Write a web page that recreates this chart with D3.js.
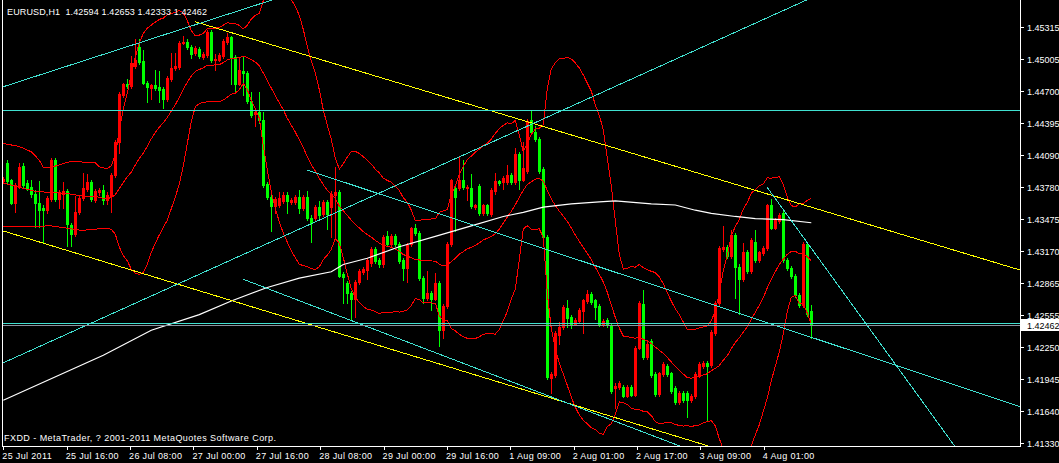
<!DOCTYPE html>
<html><head><meta charset="utf-8">
<script src="https://cdn.jsdelivr.net/npm/d3@7"></script>
<style>html,body{margin:0;padding:0;background:#000;overflow:hidden}svg{display:block}</style>
</head><body><svg id="c" width="1059" height="463"></svg>
<script>
// ---------------- DATA ----------------
const symbolTitle = "EURUSD,H1";
const lastBar = [1.42594, 1.42653, 1.42333, 1.42462]; // O H L C shown in title
const copyright = "FXDD - MetaTrader, ? 2001-2011 MetaQuotes Software Corp.";

const opens = [1.4384,1.4401,1.4385,1.4363,1.4379,1.4398,1.4382,1.4378,1.4372,1.4363,
1.4358,1.4356,1.4367,1.4404,1.4367,1.4372,1.4374,1.4342,1.4333,1.4354,
1.4368,1.4376,1.4383,1.4366,1.4373,1.4375,1.4366,1.4370,1.4390,1.4421,
1.4466,1.4477,1.4475,1.4494,1.4512,1.4499,1.4478,1.4473,1.4476,1.4474,
1.4472,1.4463,1.4482,1.4492,1.4493,1.4516,1.4517,1.4512,1.4507,1.4510,
1.4503,1.4505,1.4527,1.4500,1.4500,1.4504,1.4517,1.4522,1.4503,1.4477,
1.4489,1.4487,1.4461,1.4448,1.4450,1.4442,1.4381,1.4369,1.4360,1.4361,
1.4365,1.4371,1.4364,1.4364,1.4369,1.4358,1.4369,1.4349,1.4349,1.4359,
1.4352,1.4364,1.4359,1.4371,1.4373,1.4295,1.4286,1.4277,1.4271,1.4287,
1.4297,1.4299,1.4305,1.4319,1.4308,1.4304,1.4331,1.4324,1.4331,1.4324,
1.4308,1.4301,1.4324,1.4339,1.4334,1.4291,1.4272,1.4277,1.4271,1.4286,
1.4241,1.4264,1.4324,1.4377,1.4377,1.4385,1.4377,1.4377,1.4359,1.4379,
1.4353,1.4361,1.4352,1.4374,1.4384,1.4383,1.4383,1.4390,1.4383,1.4410,
1.4385,1.4394,1.4442,1.4431,1.4424,1.4395,1.4330,1.4195,1.4198,1.4236,
1.4244,1.4262,1.4254,1.4247,1.4250,1.4259,1.4269,1.4276,1.4270,1.4264,
1.4247,1.4251,1.4246,1.4186,1.4187,1.4187,1.4178,1.4187,1.4179,1.4224,
1.4266,1.4215,1.4231,1.4199,1.4180,1.4199,1.4207,1.4200,1.4186,1.4172,
1.4181,1.4181,1.4174,1.4178,1.4198,1.4207,1.4210,1.4208,1.4238,1.4267,
1.4319,1.4321,1.4312,1.4332,1.4302,1.4290,1.4316,1.4298,1.4326,1.4308,
1.4315,1.4320,1.4361,1.4339,1.4346,1.4353,1.4308,1.4301,1.4293,1.4275,
1.4265,1.4324,1.42594];

const highs = [1.4388,1.4404,1.4386,1.4382,1.4401,1.4401,1.4385,1.4385,1.4375,1.4384,
1.4361,1.4370,1.4406,1.4406,1.4375,1.4383,1.4376,1.4344,1.4370,1.4370,
1.4392,1.4391,1.4385,1.4376,1.4377,1.4380,1.4373,1.4392,1.4423,1.4469,
1.4478,1.4482,1.4504,1.4520,1.4520,1.4509,1.4480,1.4477,1.4490,1.4489,
1.4474,1.4485,1.4507,1.4507,1.4518,1.4523,1.4520,1.4514,1.4513,1.4512,
1.4508,1.4529,1.4529,1.4506,1.4507,1.4520,1.4526,1.4523,1.4505,1.4503,
1.4503,1.4489,1.4469,1.4452,1.4469,1.4450,1.4383,1.4371,1.4369,1.4373,
1.4373,1.4373,1.4368,1.4371,1.4375,1.4371,1.4374,1.4351,1.4361,1.4365,
1.4366,1.4366,1.4374,1.4397,1.4375,1.4297,1.4288,1.4279,1.4289,1.4300,
1.4302,1.4310,1.4321,1.4321,1.4310,1.4332,1.4336,1.4333,1.4333,1.4326,
1.4310,1.4325,1.4340,1.4343,1.4336,1.4293,1.4298,1.4279,1.4296,1.4288,
1.4266,1.4326,1.4386,1.4379,1.4408,1.4404,1.4380,1.4391,1.4362,1.4381,
1.4362,1.4362,1.4377,1.4392,1.4385,1.4389,1.4399,1.4392,1.4416,1.4412,
1.4421,1.4443,1.4451,1.4437,1.4426,1.4397,1.4332,1.4201,1.4240,1.4249,
1.4265,1.4270,1.4256,1.4253,1.4262,1.4271,1.4280,1.4278,1.4271,1.4266,
1.4252,1.4253,1.4247,1.4190,1.4192,1.4189,1.4189,1.4189,1.4226,1.4269,
1.4280,1.4230,1.4233,1.4201,1.4201,1.4211,1.4209,1.4201,1.4188,1.4183,
1.4183,1.4183,1.4180,1.4201,1.4211,1.4212,1.4212,1.4241,1.4269,1.4322,
1.4341,1.4323,1.4337,1.4334,1.4304,1.4325,1.4318,1.4329,1.4337,1.4317,
1.4322,1.4362,1.4367,1.4349,1.4353,1.4355,1.4310,1.4303,1.4295,1.4277,
1.4326,1.4326,1.42653];

const lows = [1.4382,1.4382,1.4362,1.4354,1.4377,1.4378,1.4375,1.4369,1.4340,1.4340,
1.4326,1.4353,1.4365,1.4365,1.4358,1.4358,1.4322,1.4322,1.4331,1.4352,
1.4366,1.4374,1.4365,1.4364,1.4371,1.4362,1.4362,1.4354,1.4388,1.4411,
1.4464,1.4473,1.4473,1.4492,1.4496,1.4477,1.4460,1.4463,1.4471,1.4460,
1.4454,1.4461,1.4480,1.4490,1.4491,1.4515,1.4510,1.4502,1.4505,1.4502,
1.4501,1.4503,1.4498,1.4490,1.4499,1.4502,1.4515,1.4477,1.4469,1.4476,
1.4466,1.4459,1.4445,1.4437,1.4440,1.4378,1.4367,1.4336,1.4353,1.4359,
1.4363,1.4353,1.4362,1.4362,1.4353,1.4356,1.4347,1.4326,1.4347,1.4349,
1.4350,1.4338,1.4330,1.4329,1.4292,1.4267,1.4267,1.4252,1.4254,1.4285,
1.4295,1.4290,1.4303,1.4305,1.4302,1.4302,1.4322,1.4322,1.4322,1.4305,
1.4289,1.4287,1.4322,1.4332,1.4289,1.4267,1.4270,1.4260,1.4270,1.4226,
1.4234,1.4262,1.4322,1.4336,1.4375,1.4376,1.4366,1.4358,1.4357,1.4351,
1.4351,1.4351,1.4350,1.4372,1.4380,1.4376,1.4381,1.4381,1.4381,1.4376,
1.4384,1.4392,1.4429,1.4422,1.4392,1.4328,1.4194,1.4181,1.4196,1.4228,
1.4242,1.4244,1.4243,1.4246,1.4248,1.4238,1.4267,1.4266,1.4252,1.4245,
1.4245,1.4244,1.4181,1.4167,1.4185,1.4177,1.4177,1.4178,1.4178,1.4223,
1.4213,1.4213,1.4196,1.4178,1.4178,1.4197,1.4197,1.4181,1.4170,1.4170,
1.4172,1.4158,1.4172,1.4176,1.4196,1.4205,1.4155,1.4206,1.4236,1.4265,
1.4317,1.4310,1.4310,1.4272,1.4257,1.4288,1.4296,1.4296,1.4306,1.4306,
1.4313,1.4318,1.4338,1.4338,1.4344,1.4306,1.4299,1.4291,1.4273,1.4263,
1.4263,1.4255,1.42333];

const closes = [1.4386,1.4384,1.4363,1.4380,1.4397,1.4380,1.4377,1.4372,1.4363,1.4356,
1.4356,1.4368,1.4404,1.4367,1.4373,1.4374,1.4343,1.4333,1.4354,1.4368,
1.4377,1.4383,1.4367,1.4374,1.4375,1.4366,1.4371,1.4390,1.4421,1.4467,
1.4477,1.4475,1.4497,1.4500,1.4498,1.4478,1.4474,1.4476,1.4473,1.4471,
1.4463,1.4483,1.4492,1.4494,1.4516,1.4517,1.4512,1.4506,1.4511,1.4504,
1.4506,1.4527,1.4500,1.4501,1.4505,1.4518,1.4522,1.4502,1.4477,1.4490,
1.4487,1.4461,1.4447,1.4450,1.4442,1.4380,1.4369,1.4360,1.4367,1.4368,
1.4371,1.4365,1.4366,1.4369,1.4358,1.4369,1.4349,1.4344,1.4359,1.4351,
1.4364,1.4352,1.4372,1.4373,1.4293,1.4292,1.4277,1.4271,1.4287,1.4298,
1.4300,1.4308,1.4319,1.4307,1.4304,1.4330,1.4324,1.4331,1.4324,1.4307,
1.4301,1.4323,1.4339,1.4334,1.4291,1.4272,1.4277,1.4271,1.4286,1.4241,
1.4264,1.4324,1.4385,1.4369,1.4385,1.4378,1.4378,1.4360,1.4361,1.4353,
1.4361,1.4353,1.4375,1.4384,1.4382,1.4387,1.4390,1.4383,1.4410,1.4385,
1.4396,1.4441,1.4431,1.4424,1.4394,1.4330,1.4196,1.4199,1.4238,1.4244,
1.4263,1.4253,1.4247,1.4251,1.4260,1.4270,1.4276,1.4268,1.4263,1.4247,
1.4250,1.4246,1.4183,1.4188,1.4190,1.4178,1.4187,1.4179,1.4224,1.4267,
1.4215,1.4228,1.4198,1.4180,1.4200,1.4209,1.4199,1.4183,1.4172,1.4181,
1.4174,1.4174,1.4178,1.4199,1.4209,1.4210,1.4207,1.4239,1.4267,1.4320,
1.4321,1.4312,1.4332,1.4302,1.4290,1.4316,1.4298,1.4327,1.4308,1.4316,
1.4320,1.4361,1.4339,1.4347,1.4351,1.4308,1.4301,1.4293,1.4275,1.4265,
1.4324,1.4257,1.42462];

// Bollinger Bands (20, 2): before a full 20-bar window exists on screen the
// three band lines are read off the picture as [bar, price]
const bbPeriod = 20, bbDeviations = 2;
const bbEarlyUpper = [[0,1.4420],[4,1.4417],[7,1.4412],[9,1.4404],[10,1.4397],[12,1.4397],[16,1.4402],[19,1.4403]];
const bbEarlyMiddle = [[0,1.4382],[8,1.4374],[16,1.4372],[19,1.4370]];
const bbEarlyLower = [[0,1.4340],[12,1.4341],[19,1.4337]];

// moving average (white): [bar, price]
const maPoints = [[0,1.4174],[25,1.4217],[37,1.4241],[49,1.4256],[57,1.4269],[66,1.4282],[74,1.4291],
[82,1.4297],[85,1.4304],[91,1.4310],[99,1.4321],[108,1.4331],[117,1.4341],[125,1.4350],[130,1.4354],
[135,1.4359],[142,1.4362],[149,1.4364],[153,1.4365],[162,1.4362],[168,1.4361],[173,1.4356],[177,1.4353],
[183,1.4350],[188,1.4348],[195,1.4347],[202,1.4344]];

// horizontal levels
const cyanLevels = [1.4452, 1.4248];
const bidPrice = 1.42462;

// trend lines: two anchor points [bar, price]
const cyanLinesBoth = [
  [[0,1.44743],[64.6,1.45542]],
  [[0,1.42098],[150,1.44694]]
];
const cyanRays = [
  [[76,1.43945],[200,1.42368]],
  [[60,1.42898],[150,1.41581]],
  [[190.85,1.43785],[230,1.41715]]
];
const yellowRays = [ [[47.9,1.45366],[200,1.43612]] ];
const yellowLinesBoth = [ [[0,1.43361],[150,1.41608]] ];

// axes
const priceTicks = [1.41330,1.41640,1.41945,1.42250,1.42555,1.42865,1.43170,1.43475,1.43780,1.44090,1.44395,1.44700,1.45005,1.45315];
const timeTickHours = [0,16,32,48,64,80,96,112,128,144,160,176,192];
const timeTickLabels = ["25 Jul 2011","25 Jul 16:00","26 Jul 08:00","27 Jul 00:00","27 Jul 16:00","28 Jul 08:00","29 Jul 00:00","29 Jul 16:00","1 Aug 09:00","2 Aug 01:00","2 Aug 17:00","3 Aug 09:00","4 Aug 01:00"];
const lastHour = 204;

// ---------------- DRAW ----------------
function hasFont(name){
  const c=document.createElement('canvas').getContext('2d');
  const s='1.42594 EURUSD,H1 Aug MetaQuotes';
  c.font='40px monospace'; const a=c.measureText(s).width;
  c.font='40px "'+name+'", monospace'; const b=c.measureText(s).width;
  return Math.abs(a-b)>0.5;
}
const narrow = hasFont('Liberation Sans Narrow');
const FONT = narrow ? '"Liberation Sans Narrow", "Liberation Sans", Arial, sans-serif' : '"Liberation Sans", Arial, sans-serif';
const FS = narrow ? 11 : 9;

const plot = {left:2, right:1020.5, top:0, bottom:446};
const svg = d3.select('#c');
svg.append('rect').attr('width',1059).attr('height',463).attr('fill','#000');

const N = closes.length;
const x = d3.scaleLinear().domain([0, N-1]).range([3.3, 811.3]);
const xt = d3.scaleLinear().domain([0, lastHour]).range([3.3, 811.3]);
const y = d3.scaleLinear().domain([1.41330, 1.45315]).range([443, 27]);

svg.append('clipPath').attr('id','clip').append('rect')
  .attr('x',plot.left+1).attr('y',plot.top).attr('width',plot.right-plot.left-1).attr('height',plot.bottom-plot.top);
const g = svg.append('g').attr('clip-path','url(#clip)').attr('shape-rendering','crispEdges');

const RED='#ff0000', GREEN='#00ff00', CYAN='#40e0d0', YELLOW='#ffff00';

// candles
const idx = d3.range(N);
g.selectAll('line.wick').data(idx).join('line')
  .attr('x1', i=>Math.round(x(i))+0.5).attr('x2', i=>Math.round(x(i))+0.5)
  .attr('y1', i=>Math.round(y(Math.max(highs[i],opens[i],closes[i]))))
  .attr('y2', i=>Math.round(y(Math.min(lows[i],opens[i],closes[i])))+1)
  .attr('stroke', i=>closes[i]>opens[i]?RED:GREEN).attr('stroke-width',1);
g.selectAll('rect.body').data(idx).join('rect')
  .attr('x', i=>Math.round(x(i))-1).attr('width',3)
  .attr('y', i=>Math.round(y(Math.max(opens[i],closes[i]))))
  .attr('height', i=>Math.max(1, Math.round(y(Math.min(opens[i],closes[i])))-Math.round(y(Math.max(opens[i],closes[i])))+1))
  .attr('fill', i=>closes[i]>opens[i]?RED:GREEN);

// Bollinger bands from the closes
function band(i){
  const w = closes.slice(i-bbPeriod+1, i+1);
  const m = d3.mean(w);
  const sd = Math.sqrt(d3.mean(w, v=>(v-m)*(v-m)));
  return {m, u:m+bbDeviations*sd, l:m-bbDeviations*sd};
}
const bbIdx = d3.range(bbPeriod, N);
const bbUpper = bbEarlyUpper.concat(bbIdx.map(i=>[i, band(i).u]));
const bbMiddle = bbEarlyMiddle.concat(bbIdx.map(i=>[i, band(i).m]));
const bbLower = bbEarlyLower.concat(bbIdx.map(i=>[i, band(i).l]));
const lineGen = d3.line().x(d=>x(d[0])).y(d=>y(d[1]));
g.selectAll('path.bb').data([bbUpper,bbMiddle,bbLower]).join('path')
  .attr('d', lineGen).attr('fill','none').attr('stroke',RED).attr('stroke-width',1);

// white MA
g.append('path').datum(maPoints)
  .attr('d', lineGen)
  .attr('fill','none').attr('stroke','#ffffff').attr('stroke-width',1.2).attr('shape-rendering','auto');

// trend lines
function seg(pts, mode){
  const x1=x(pts[0][0]), y1=y(pts[0][1]), x2=x(pts[1][0]), y2=y(pts[1][1]);
  const m=(y2-y1)/(x2-x1);
  const xa = mode==='both'? plot.left : x1, xb = plot.right;
  return [xa, y1+m*(xa-x1), xb, y1+m*(xb-x1)];
}
function drawLines(arr, mode, color){
  g.selectAll(null).data(arr).join('line')
    .each(function(d){ const s=seg(d,mode); d3.select(this).attr('x1',s[0]).attr('y1',s[1]).attr('x2',s[2]).attr('y2',s[3]); })
    .attr('stroke',color).attr('stroke-width',1);
}
drawLines(yellowLinesBoth,'both',YELLOW);
drawLines(yellowRays,'right',YELLOW);
drawLines(cyanLinesBoth,'both',CYAN);
drawLines(cyanRays,'right',CYAN);

g.selectAll(null).data(cyanLevels).join('line')
  .attr('x1',plot.left).attr('x2',plot.right)
  .attr('y1',d=>Math.round(y(d))+0.5).attr('y2',d=>Math.round(y(d))+0.5)
  .attr('stroke',CYAN).attr('stroke-width',1);
g.append('line').datum(bidPrice)
  .attr('x1',plot.left).attr('x2',plot.right)
  .attr('y1',d=>Math.round(y(d))+0.5).attr('y2',d=>Math.round(y(d))+0.5)
  .attr('stroke','#8a93a0').attr('stroke-width',1);

// frame
const fr = svg.append('g').attr('shape-rendering','crispEdges').attr('stroke','#fff').attr('stroke-width',1);
fr.append('line').attr('x1',plot.left+0.5).attr('x2',plot.left+0.5).attr('y1',0).attr('y2',plot.bottom+0.5);
fr.append('line').attr('x1',plot.right).attr('x2',plot.right).attr('y1',0).attr('y2',plot.bottom+0.5);
fr.append('line').attr('x1',plot.left).attr('x2',plot.right).attr('y1',plot.bottom+0.5).attr('y2',plot.bottom+0.5);

// price axis
const pa = svg.append('g');
pa.selectAll('line').data(priceTicks).join('line')
  .attr('x1',plot.right).attr('x2',plot.right+3)
  .attr('y1',d=>Math.round(y(d))+0.5).attr('y2',d=>Math.round(y(d))+0.5)
  .attr('stroke','#fff').attr('shape-rendering','crispEdges');
pa.selectAll('text').data(priceTicks).join('text')
  .attr('x',1027).attr('y',d=>y(d)+4)
  .attr('fill','#fff').attr('font-family',FONT).attr('font-size',FS)
  .text(d=>d.toFixed(5));
// bid box
const bb = svg.append('g').datum(bidPrice);
bb.append('rect').attr('x',1021).attr('width',38).attr('y',d=>Math.round(y(d))-6).attr('height',12).attr('fill','#fff');
bb.append('text').attr('x',1027).attr('y',d=>y(d)+4).attr('fill','#000')
  .attr('font-family',FONT).attr('font-size',FS).text(d=>d.toFixed(5));

// time axis
const ta = svg.append('g');
ta.selectAll('line').data(timeTickHours).join('line')
  .attr('x1',d=>Math.round(xt(d))+0.5).attr('x2',d=>Math.round(xt(d))+0.5)
  .attr('y1',plot.bottom).attr('y2',plot.bottom+4)
  .attr('stroke','#fff').attr('shape-rendering','crispEdges');
ta.selectAll('text').data(timeTickHours).join('text')
  .attr('x',d=>xt(d)-1).attr('y',459)
  .attr('fill','#fff').attr('font-family',FONT).attr('font-size',FS)
  .attr('letter-spacing',0.35)
  .text((d,i)=>timeTickLabels[i]);

// texts
svg.append('text').attr('x',7).attr('y',14.5).attr('fill','#fff').attr('font-family',FONT).attr('font-size',FS)
  .attr('xml:space','preserve').style('white-space','pre')
  .attr('textLength',200).attr('lengthAdjust','spacing')
  .text(symbolTitle+'  '+lastBar.map(v=>v.toFixed(5)).join(' '));
svg.append('text').attr('x',4).attr('y',441).attr('fill','#fff').attr('font-family',FONT).attr('font-size',FS)
  .attr('textLength',272).attr('lengthAdjust','spacing')
  .text(copyright);
</script></body></html>
